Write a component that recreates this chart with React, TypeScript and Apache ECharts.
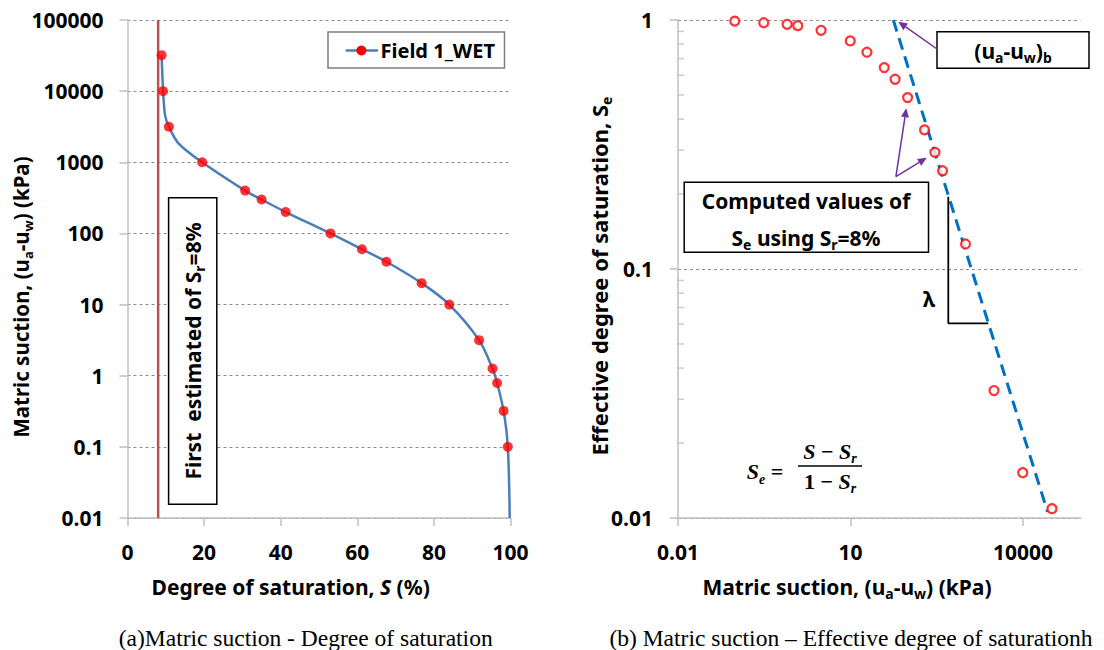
import React, { useEffect, useRef } from 'react';
import * as echarts from 'echarts';

// ---------- Data ----------
// (a) Matric suction vs degree of saturation — measured points
const fieldS = [8.9, 9.3, 10.8, 19.5, 30.7, 35.0, 41.3, 53.0, 61.2, 67.6, 76.8, 84.0, 91.8, 95.3, 96.5, 98.2, 99.3];
const fieldSuction = [32000, 10000, 3162, 1000, 400, 300, 200, 100, 60, 40, 20, 10, 3.16, 1.26, 0.79, 0.32, 0.1];
// fitted curve
const fitS = [8.9, 9.3, 9.8, 10.8, 13.3, 19.5, 30.7, 35.0, 41.3, 53.0, 61.2, 67.6, 76.8, 84.0, 91.8, 95.3, 96.5, 98.2, 99.3, 99.8];
const fitSuction = [32000, 10000, 4600, 3162, 1850, 1000, 400, 300, 200, 100, 60, 40, 20, 10, 3.16, 1.26, 0.79, 0.32, 0.1, 0.01];
// residual saturation line
const srValue = 8;
const srSpan = [0.01, 100000];

// (b) Effective degree of saturation vs matric suction
const seSuction = [0.097, 0.31, 0.79, 1.21, 3.08, 9.9, 19.3, 38.6, 59.6, 98.3, 194, 294, 399, 1000, 3130, 9900, 31900];
const seValues = [0.99, 0.975, 0.961, 0.949, 0.909, 0.824, 0.742, 0.644, 0.578, 0.488, 0.362, 0.294, 0.248, 0.126, 0.0325, 0.0152, 0.0109];
const bLineX = [55.5, 26700];
const bLineY = [1, 0.0106];
const lambdaX = [502, 502, 2495];
const lambdaY = [0.195, 0.0605, 0.0605];

// tick values
const leftXTicks = [0, 20, 40, 60, 80, 100];
const rightXTicks = [0.01, 10, 10000];
const rightYMinorTicks = [0.02, 0.03, 0.04, 0.05, 0.06, 0.07, 0.08, 0.09, 0.2, 0.3, 0.4, 0.5, 0.6, 0.7, 0.8, 0.9];

// ---------- Styles ----------
const SANS = '"Noto Sans", "Open Sans", sans-serif';
const SERIF = '"Liberation Serif", "Times New Roman", serif';
const AXIS_GRAY = '#BFBFBF';
const GRID_GRAY = '#8C8C8C';

const fmtNum = (v: number) => String(Number(Number(v).toPrecision(6)));

const labelStyle = {
  color: '#000',
  fontSize: 21,
  fontWeight: 'bold',
  fontFamily: SANS,
};

const richFor = (size: number, family = SANS, italicSub = false) => ({
  sub: {
    fontSize: Math.round(size * 0.65),
    fontWeight: 'bold',
    fontStyle: italicSub ? 'italic' : 'normal',
    fontFamily: family,
    fill: '#000',
    verticalAlign: 'bottom',
    lineHeight: Math.round(size * 0.75),
  },
  it: {
    fontSize: size,
    fontWeight: 'bold',
    fontStyle: 'italic',
    fontFamily: family,
    fill: '#000',
    lineHeight: Math.round(size * 1.3),
  },
});

function txt(text: string, x: number, y: number, size: number, opts: any = {}) {
  const family = opts.family || SANS;
  return {
    type: 'text',
    x,
    y,
    rotation: opts.rotation || 0,
    z: 100,
    style: {
      text,
      fill: '#000',
      fontSize: size,
      fontWeight: opts.weight || 'bold',
      fontStyle: opts.style || 'normal',
      fontFamily: family,
      align: opts.align || 'center',
      verticalAlign: 'middle',
      lineHeight: Math.round(size * 1.3),
      rich: richFor(size, family, opts.italicSub),
    },
  };
}

function box(x: number, y: number, w: number, h: number, stroke = '#000') {
  return {
    type: 'rect',
    z: 99,
    shape: { x, y, width: w, height: h },
    style: { fill: '#fff', stroke, lineWidth: 1.5 },
  };
}

function arrow(x1: number, y1: number, x2: number, y2: number, color: string) {
  const dx = x2 - x1;
  const dy = y2 - y1;
  const L = Math.hypot(dx, dy);
  const ux = dx / L;
  const uy = dy / L;
  const hl = 9;
  const hw = 4;
  const bx = x2 - ux * hl;
  const by = y2 - uy * hl;
  return [
    { type: 'line', z: 100, shape: { x1, y1, x2: bx, y2: by }, style: { stroke: color, lineWidth: 1.5 } },
    {
      type: 'polygon',
      z: 100,
      shape: { points: [[x2, y2], [bx - uy * hw, by + ux * hw], [bx + uy * hw, by - ux * hw]] },
      style: { fill: color },
    },
  ];
}

export default function App() {
  const ref = useRef<HTMLDivElement>(null);

  useEffect(() => {
    if (!ref.current) return;
    const chart = echarts.init(ref.current, null, { renderer: 'svg' });

    const fieldPoints = fieldS.map((s, i) => [s, fieldSuction[i]]);
    const fitCurve = fitS.map((s, i) => [s, fitSuction[i]]);
    const srLine = srSpan.map((y) => [srValue, y]);
    const sePoints = seSuction.map((x, i) => [x, seValues[i]]);
    const bLine = bLineX.map((x, i) => [x, bLineY[i]]);
    const lambdaTri = lambdaX.map((x, i) => [x, lambdaY[i]]);
    const minorTickMarks = rightYMinorTicks.map((v) => [rightXTicks[0], v]);

    const axisLine = { show: true, onZero: false, lineStyle: { color: AXIS_GRAY, width: 1.5 } };
    const tickStyle = { color: AXIS_GRAY, width: 1.5 };
    const gridLine = { show: true, lineStyle: { color: GRID_GRAY, type: [3, 3], width: 1 } };

    const purple = '#7030A0';

    const graphic: any[] = [
      // legend
      box(328, 32, 176.5, 36, '#7F7F7F'),
      { type: 'line', z: 100, shape: { x1: 345.7, y1: 50.5, x2: 378, y2: 50.5 }, style: { stroke: '#4A7EBB', lineWidth: 2.5 } },
      { type: 'circle', z: 101, shape: { cx: 361.4, cy: 50.5, r: 5 }, style: { fill: '#FF0000' } },
      txt('Field 1_WET', 380.5, 50.5, 20, { align: 'left' }),

      // Sr annotation box
      box(168.6, 197.7, 48.2, 306.6),
      txt('First  estimated of S{sub|r}=8%', 192.7, 351, 21, { rotation: Math.PI / 2 }),

      // axis titles (a)
      txt('Matric suction, (u{sub|a}-u{sub|w}) (kPa)', 21, 297, 20.5, { rotation: Math.PI / 2 }),
      txt('Degree of saturation, {it|S} (%)', 290.7, 587, 21),
      txt('(a)Matric suction - Degree of saturation', 305.7, 638, 23.5, { family: SERIF, weight: 'normal' }),

      // axis titles (b)
      txt('Effective degree of saturation, S{sub|e}', 599, 276, 22, { rotation: Math.PI / 2 }),
      txt('Matric suction, (u{sub|a}-u{sub|w}) (kPa)', 847, 587, 21),
      txt('(b) Matric suction \u2013 Effective degree of saturationh', 851, 638, 23.5, { family: SERIF, weight: 'normal' }),

      // (ua-uw)b box
      box(937, 31.7, 152, 36.6),
      txt('(u{sub|a}-u{sub|w}){sub|b}', 1013, 51, 21),
      ...arrow(937, 49, 898.3, 21.7, purple),

      // computed values box
      box(684.2, 182.3, 244.3, 70),
      txt('Computed values of', 806, 201, 21),
      txt('S{sub|e} using S{sub|r}=8%', 806, 238, 21),
      ...arrow(895.9, 176.7, 906.3, 108.3, purple),
      ...arrow(895.9, 176.7, 926.8, 157.7, purple),

      // lambda
      txt('\u03bb', 929, 299, 21),

      // formula
      txt('{it|S}{sub|e} =', 746.7, 471.7, 22, { family: SERIF, align: 'left', italicSub: true }),
      txt('{it|S} \u2212 {it|S}{sub|r}', 830, 451, 22, { family: SERIF, italicSub: true }),
      { type: 'line', z: 100, shape: { x1: 798, y1: 466, x2: 862, y2: 466 }, style: { stroke: '#000', lineWidth: 1.5 } },
      txt('1 \u2212 {it|S}{sub|r}', 830, 481, 22, { family: SERIF, italicSub: true }),
    ];

    const option: any = {
      animation: false,
      backgroundColor: '#fff',
      grid: [
        { left: 127.5, top: 20, width: 383, height: 498 },
        { left: 678, top: 20, width: 402.5, height: 498 },
      ],
      xAxis: [
        {
          type: 'value',
          gridIndex: 0,
          min: leftXTicks[0],
          max: leftXTicks[leftXTicks.length - 1],
          interval: 20,
          axisLine,
          axisTick: { show: true, length: 8, lineStyle: tickStyle },
          axisLabel: { ...labelStyle, margin: 23 },
          splitLine: { show: false },
        },
        {
          type: 'log',
          logBase: 10,
          gridIndex: 1,
          min: 0.01,
          max: 100000,
          axisLine,
          axisTick: { show: true, length: 8, lineStyle: tickStyle, customValues: rightXTicks },
          axisLabel: {
            ...labelStyle,
            margin: 23,
            customValues: rightXTicks,
            formatter: (v: number) =>
              rightXTicks.some((t) => Math.abs(Math.log10(t) - Math.log10(v)) < 1e-6) ? fmtNum(v) : '',
          },
          splitLine: { show: false },
        },
      ],
      yAxis: [
        {
          type: 'log',
          logBase: 10,
          gridIndex: 0,
          min: 0.01,
          max: 100000,
          axisLine,
          axisTick: { show: true, length: 8, lineStyle: tickStyle },
          axisLabel: { ...labelStyle, margin: 24, formatter: fmtNum },
          splitLine: gridLine,
        },
        {
          type: 'log',
          logBase: 10,
          gridIndex: 1,
          min: 0.01,
          max: 1,
          axisLine,
          axisTick: { show: true, length: 8, lineStyle: tickStyle },
          axisLabel: { ...labelStyle, margin: 25, formatter: fmtNum },
          splitLine: gridLine,
        },
      ],
      series: [
        {
          type: 'line',
          xAxisIndex: 0,
          yAxisIndex: 0,
          data: srLine,
          symbol: 'none',
          lineStyle: { color: '#C0504D', width: 2.5 },
          z: 3,
        },
        {
          type: 'line',
          xAxisIndex: 0,
          yAxisIndex: 0,
          data: fitCurve,
          smooth: 0.3,
          symbol: 'none',
          lineStyle: { color: '#4A7EBB', width: 2.5 },
          z: 4,
        },
        {
          name: 'Field 1_WET',
          type: 'scatter',
          xAxisIndex: 0,
          yAxisIndex: 0,
          data: fieldPoints,
          symbolSize: 10,
          itemStyle: { color: '#FF0000' },
          z: 5,
        },
        {
          // minor ticks of the right y axis (inward)
          type: 'scatter',
          xAxisIndex: 1,
          yAxisIndex: 1,
          data: minorTickMarks,
          symbol: 'rect',
          symbolSize: [6, 1.5],
          symbolOffset: [3, 0],
          itemStyle: { color: AXIS_GRAY },
          clip: false,
          silent: true,
          z: 2,
        },
        {
          type: 'line',
          xAxisIndex: 1,
          yAxisIndex: 1,
          data: bLine,
          symbol: 'none',
          lineStyle: { color: '#0070C0', width: 3, type: [12, 7] },
          z: 3,
        },
        {
          type: 'line',
          xAxisIndex: 1,
          yAxisIndex: 1,
          data: lambdaTri,
          symbol: 'none',
          lineStyle: { color: '#000', width: 1.8 },
          z: 3,
        },
        {
          type: 'scatter',
          xAxisIndex: 1,
          yAxisIndex: 1,
          data: sePoints,
          symbol: 'circle',
          symbolSize: 9,
          itemStyle: { color: '#fff', borderColor: '#FF0000', borderWidth: 2.2 },
          z: 5,
        },
      ],
      graphic,
    };

    chart.setOption(option);
    return () => chart.dispose();
  }, []);

  return (
    <div
      ref={ref}
      style={{ position: 'fixed', left: 0, top: 0, width: 1104, height: 650, background: '#fff' }}
    />
  );
}
